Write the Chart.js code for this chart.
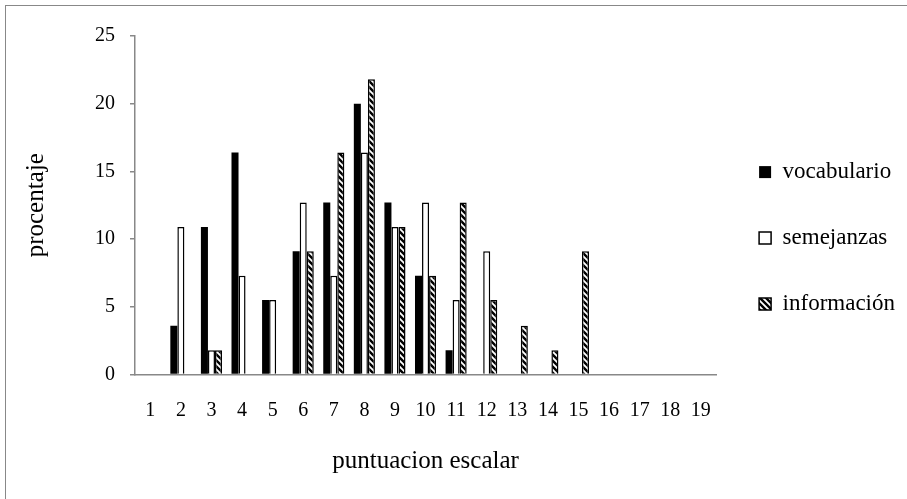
<!DOCTYPE html>
<html>
<head>
<meta charset="utf-8">
<script src="https://cdn.jsdelivr.net/npm/chart.js@4/dist/chart.umd.min.js"></script>
<style>
	html, body { margin: 0; padding: 0; background: #fff; overflow: hidden; }
	#frame { position: absolute; left: 5px; top: 5px; width: 1000px; height: 600px; border: 1px solid #888; }
	#wrap { position: absolute; left: 0; top: 0; width: 907px; height: 499px; }
</style>
</head>
<body>
<div id="frame"></div>
<div id="wrap"><canvas id="chart"></canvas></div>
<script>
const categories = ['1', '2', '3', '4', '5', '6', '7', '8', '9', '10', '11', '12', '13', '14', '15', '16', '17', '18', '19']
const vocabulario = [0, 3.6, 10.9, 16.4, 5.5, 9.1, 12.7, 20, 12.7, 7.3, 1.8, 0, 0, 0, 0, 0, 0, 0, 0]
const semejanzas = [0, 10.9, 1.8, 7.3, 5.5, 12.7, 7.3, 16.4, 10.9, 12.7, 5.5, 9.1, 0, 0, 0, 0, 0, 0, 0]
const informacion = [0, 0, 1.8, 0, 0, 9.1, 16.4, 21.8, 10.9, 7.3, 12.7, 5.5, 3.6, 1.8, 9.1, 0, 0, 0, 0]

const serif = 'Liberation Serif, Times New Roman, serif'

// diagonal stripe fill for "información"
function stripes() {
	const c = document.createElement('canvas')
	c.width = 6
	c.height = 6
	const g = c.getContext('2d')
	g.fillStyle = '#fff'
	g.fillRect(0, 0, 6, 6)
	g.strokeStyle = '#000'
	g.lineWidth = 2.4
	g.beginPath()
	g.moveTo(-3, 3); g.lineTo(3, 9)
	g.moveTo(0, 0); g.lineTo(6, 6)
	g.moveTo(3, -3); g.lineTo(9, 3)
	g.stroke()
	return g.createPattern(c, 'repeat')
}
const pattern = stripes()

new Chart(document.getElementById('chart'), {
	type: 'bar',
	data: {
		labels: categories,
		datasets: [
			{ label: 'vocabulario', data: vocabulario, backgroundColor: '#000', borderColor: '#000', borderWidth: 0 },
			{ label: 'semejanzas', data: semejanzas, backgroundColor: '#fff', borderColor: '#000', borderWidth: 1.5 },
			{ label: 'información', data: informacion, backgroundColor: pattern, borderColor: '#000', borderWidth: 1.5 }
		]
	},
	options: {
		responsive: true,
		maintainAspectRatio: false,
		animation: false,
		datasets: { bar: { categoryPercentage: 0.69, barPercentage: 1 } },
		layout: { padding: { left: 21, top: 36, right: 2, bottom: 24 } },
		plugins: {
			tooltip: { enabled: false },
			legend: {
				position: 'right',
				align: 'start',
				title: { display: true, text: ' ', padding: 27, font: { family: serif, size: 23 } },
				labels: {
					color: '#000',
					font: { family: serif, size: 23 },
					boxWidth: 12,
					boxHeight: 12,
					padding: 43
				}
			}
		},
		scales: {
			x: {
				grid: { display: false },
				border: { color: '#888', width: 1.5 },
				ticks: { color: '#000', font: { family: serif, size: 20 }, padding: 16, maxRotation: 0 },
				title: { display: true, text: 'puntuacion escalar', color: '#000', font: { family: serif, size: 25, lineHeight: 1.1 }, padding: { top: 9, bottom: 0 } }
			},
			y: {
				min: 0,
				max: 25,
				grid: { drawOnChartArea: false, drawTicks: true, tickLength: 5, color: '#888', lineWidth: 1.5 },
				border: { color: '#888', width: 1.5 },
				ticks: { stepSize: 5, color: '#000', font: { family: serif, size: 20 }, padding: 15 },
				title: { display: true, text: 'procentaje', color: '#000', font: { family: serif, size: 25 }, padding: { top: 0, bottom: 29 } }
			}
		}
	}
})
</script>
</body>
</html>
